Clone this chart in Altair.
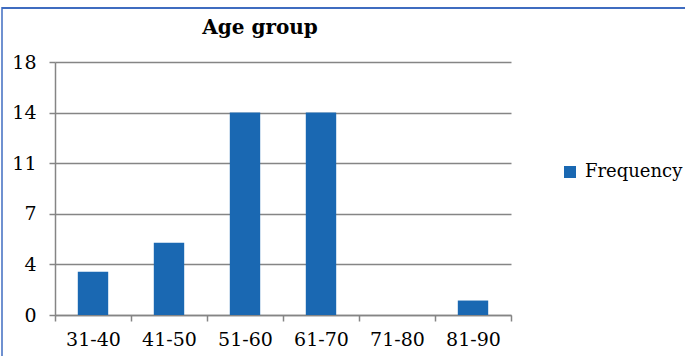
import altair as alt
import pandas as pd

# Frequency of respondents per age group
age_groups = ["31-40", "41-50", "51-60", "61-70", "71-80", "81-90"]
frequency = [3, 5, 14, 14, 0, 1]
series_name = "Frequency"

# y-axis in steps of 3.5, shown as whole numbers
y_ticks = [0, 3.5, 7, 10.5, 14, 17.5]

BLUE = "#1a68b2"
GRID = "#858585"
FRAME = "#3f6cc0"
FONT = "DejaVu Serif"

df = pd.DataFrame({"age": age_groups, "count": frequency, "series": series_name})

bars = alt.Chart(df).mark_bar(width=alt.RelativeBandSize(0.4)).encode(
    x=alt.X(
        "age:N",
        sort=age_groups,
        title=None,
        scale=alt.Scale(paddingInner=0, paddingOuter=0),
        axis=alt.Axis(
            labelAngle=0,
            tickBand="extent",
            domainColor=GRID,
            domainWidth=1.5,
            tickColor=GRID,
            tickWidth=1.5,
            tickSize=6,
            labelFont=FONT,
            labelFontSize=19,
            labelColor="#000000",
            labelPadding=9,
            grid=False,
        ),
    ),
    y=alt.Y(
        "count:Q",
        title=None,
        scale=alt.Scale(domain=[0, 17.5], nice=False),
        axis=alt.Axis(
            values=y_ticks,
            labelExpr="round(datum.value)",
            domainColor=GRID,
            domainWidth=1.5,
            tickColor=GRID,
            tickWidth=1.5,
            tickSize=6,
            labelFont=FONT,
            labelFontSize=19,
            labelColor="#000000",
            labelPadding=13,
            grid=True,
            gridColor=GRID,
            gridWidth=1.5,
        ),
    ),
    color=alt.Color(
        "series:N",
        scale=alt.Scale(range=[BLUE]),
        legend=alt.Legend(
            title=None,
            orient="none",
            legendX=506,
            legendY=101,
            symbolType="square",
            symbolSize=144,
            symbolStrokeWidth=0,
            labelFont=FONT,
            labelFontSize=18,
            labelColor="#000000",
            labelOffset=6,
            labelLimit=200,
        ),
    ),
)

# Outer frame lines around the chart
frame_df = pd.DataFrame({"k": [0]})
left_edge = alt.Chart(frame_df).mark_rule(color=FRAME, strokeWidth=1.5).encode(
    x=alt.value(-53), y=alt.value(-55), y2=alt.value(300)
)
top_edge = alt.Chart(frame_df).mark_rule(color=FRAME, strokeWidth=2).encode(
    x=alt.value(-53), x2=alt.value(640), y=alt.value(-54)
)

chart = (
    alt.layer(bars, left_edge, top_edge)
    .properties(
        width=456,
        height=253,
        autosize=alt.AutoSizeParams(type="none"),
        padding={"left": 55, "top": 62, "right": 174, "bottom": 41},
        title=alt.TitleParams(
            "Age group",
            font=FONT,
            fontSize=20,
            fontWeight="bold",
            color="#000000",
            anchor="middle",
            dx=-23,
            offset=-32,
        ),
        background="#ffffff",
    )
    .configure_view(stroke=None)
)

chart.save("out.html", embed_options={"renderer": "svg", "actions": False})
